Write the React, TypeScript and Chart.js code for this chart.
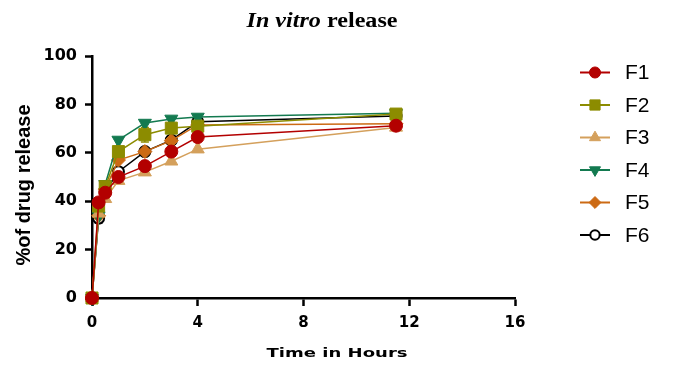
import React, { useEffect, useRef } from 'react';
import { Chart, registerables } from 'chart.js';

Chart.register(...registerables);

// ---- data ----
const titleItalic = 'In vitro';
const titleRest = ' release';
const xTitle = 'Time in Hours';
const yTitle = '%of drug release';

const timeHours = [0, 0.25, 0.5, 1, 2, 3, 4, 11.5];
const seriesNames = ['F1', 'F2', 'F3', 'F4', 'F5', 'F6'];
const f1 = [0, 39.5, 43.5, 50, 54.5, 60.5, 66.5, 71.2];
const f2 = [0, 38, 46, 60.5, 67.5, 70.2, 71, 76];
const f3 = [0, 35, 41, 48.5, 52, 56.5, 61.5, 70.5];
const f4 = [0, 34, 47, 65.3, 72.3, 74, 74.8, 76.3];
const f5 = [0, 34, 45, 57, 60.5, 65, 71.5, 72];
const f6 = [0, 33, 44, 52.2, 60.5, 65.2, 72.8, 75.2];
const f2Err = [0, 0, 0, 0, 3, 0, 0, 0];
const f3Err = [0, 3, 0, 0, 0, 0, 0, 0];
const f6Err = [0, 2, 0, 0, 0, 0, 0, 0];
const xTicks = [0, 4, 8, 12, 16];
const yTicks = [0, 20, 40, 60, 80, 100];

const seriesValues = [f1, f2, f3, f4, f5, f6];
const seriesErrors = [null, f2Err, f3Err, null, null, f6Err];
const seriesColors = ['#B30000', '#8C8C00', '#D4A05C', '#137A50', '#CC6A14', '#000000'];
const seriesFill = ['#B30000', '#8C8C00', '#D4A05C', '#137A50', '#CC6A14', '#FFFFFF'];
const seriesStyle = ['circle', 'rect', 'triangle', 'triangle', 'rectRot', 'circle'];
const seriesRot = [0, 0, 0, 180, 0, 0];
const seriesRadius = [6.5, 8.5, 7.5, 7.5, 7, 5.5];
const seriesBorder = [1, 1, 1, 1, 1, 2];

function drawMarker(ctx: CanvasRenderingContext2D, style: string, x: number, y: number, r: number, rot: number, fill: string, stroke: string, bw: number) {
  ctx.save();
  ctx.translate(x, y);
  ctx.rotate((rot * Math.PI) / 180);
  ctx.beginPath();
  if (style === 'circle') {
    ctx.arc(0, 0, r, 0, Math.PI * 2);
  } else if (style === 'rect') {
    const s = r * Math.SQRT1_2;
    ctx.rect(-s, -s, 2 * s, 2 * s);
  } else if (style === 'triangle') {
    for (let i = 0; i < 3; i++) {
      const a = (i * 2 * Math.PI) / 3;
      const px = Math.sin(a) * r;
      const py = -Math.cos(a) * r;
      if (i === 0) ctx.moveTo(px, py);
      else ctx.lineTo(px, py);
    }
    ctx.closePath();
  } else if (style === 'rectRot') {
    ctx.moveTo(-r, 0);
    ctx.lineTo(0, -r);
    ctx.lineTo(r, 0);
    ctx.lineTo(0, r);
    ctx.closePath();
  }
  ctx.fillStyle = fill;
  ctx.fill();
  ctx.lineWidth = bw;
  ctx.strokeStyle = stroke;
  ctx.stroke();
  ctx.restore();
}

const decorPlugin = {
  id: 'decor',
  beforeDatasetsDraw(chart: any) {
    const ctx = chart.ctx as CanvasRenderingContext2D;
    const xs = chart.scales.x;
    const ys = chart.scales.y;
    ctx.save();
    seriesErrors.forEach((errs, i) => {
      if (!errs) return;
      ctx.strokeStyle = seriesColors[i];
      ctx.lineWidth = 1.5;
      errs.forEach((e, j) => {
        if (!e) return;
        const x = xs.getPixelForValue(timeHours[j]);
        const y1 = ys.getPixelForValue(seriesValues[i][j] - e);
        const y2 = ys.getPixelForValue(seriesValues[i][j] + e);
        ctx.beginPath();
        ctx.moveTo(x, y1);
        ctx.lineTo(x, y2);
        ctx.moveTo(x - 4, y1);
        ctx.lineTo(x + 4, y1);
        ctx.moveTo(x - 4, y2);
        ctx.lineTo(x + 4, y2);
        ctx.stroke();
      });
    });
    ctx.restore();
  },
  afterDraw(chart: any) {
    const ctx = chart.ctx as CanvasRenderingContext2D;
    ctx.save();
    ctx.fillStyle = '#000';
    // title
    ctx.textBaseline = 'alphabetic';
    ctx.textAlign = 'left';
    const fItal = 'italic bold 20px "Liberation Serif"';
    const fBold = 'bold 20px "Liberation Serif"';
    ctx.font = fItal;
    const w1 = ctx.measureText(titleItalic).width;
    ctx.font = fBold;
    const w2 = ctx.measureText(titleRest).width;
    const k = 151 / (w1 + w2);
    ctx.save();
    ctx.translate(322 - 151 / 2, 27);
    ctx.scale(k, 1);
    ctx.font = fItal;
    ctx.fillText(titleItalic, 0, 0);
    ctx.font = fBold;
    ctx.fillText(titleRest, w1, 0);
    ctx.restore();

    // x title (wide)
    ctx.save();
    ctx.font = 'bold 13px "DejaVu Sans"';
    const xw = ctx.measureText(xTitle).width;
    const sx = 141 / xw;
    ctx.translate(337, 357);
    ctx.scale(sx, 1);
    ctx.textAlign = 'center';
    ctx.fillText(xTitle, 0, 0);
    ctx.restore();

    // y title
    ctx.save();
    ctx.font = 'bold 20px "Liberation Sans"';
    ctx.translate(30, 185);
    ctx.rotate(-Math.PI / 2);
    ctx.textAlign = 'center';
    ctx.textBaseline = 'alphabetic';
    ctx.fillText(yTitle, 0, 0);
    ctx.restore();

    // legend
    ctx.font = '21px "Liberation Sans"';
    ctx.textBaseline = 'middle';
    ctx.textAlign = 'left';
    seriesNames.forEach((name, i) => {
      const y = 72.5 + i * 32.5;
      ctx.strokeStyle = seriesColors[i];
      ctx.lineWidth = 2;
      ctx.beginPath();
      ctx.moveTo(580, y);
      ctx.lineTo(610, y);
      ctx.stroke();
      drawMarker(ctx, seriesStyle[i], 595, y, seriesRadius[i] * 0.85, seriesRot[i], seriesFill[i], seriesColors[i], seriesBorder[i]);
      ctx.fillStyle = '#000';
      ctx.fillText(name, 625, y + 1);
    });
    ctx.restore();
  },
};

export default function App() {
  const ref = useRef<HTMLCanvasElement | null>(null);
  useEffect(() => {
    if (!ref.current) return;
    const datasets = seriesNames.map((name, i) => ({
      label: name,
      data: timeHours.map((t, j) => ({ x: t, y: seriesValues[i][j] })),
      borderColor: seriesColors[i],
      backgroundColor: seriesFill[i],
      pointBackgroundColor: seriesFill[i],
      pointBorderColor: seriesColors[i],
      pointBorderWidth: seriesBorder[i],
      pointStyle: seriesStyle[i],
      pointRotation: seriesRot[i],
      pointRadius: seriesRadius[i],
      borderWidth: 1.5,
      tension: 0,
      clip: false as any,
    }));
    const chart = new Chart(ref.current, {
      type: 'line',
      data: { datasets },
      plugins: [decorPlugin],
      options: {
        animation: false,
        responsive: true,
        maintainAspectRatio: false,
        layout: { padding: { top: 56, right: 165, left: 0, bottom: 0 } },
        plugins: { legend: { display: false }, title: { display: false }, tooltip: { enabled: false } },
        scales: {
          x: {
            type: 'linear',
            min: 0,
            max: 16,
            afterBuildTicks: (s: any) => {
              s.ticks = xTicks.map((v) => ({ value: v }));
            },
            afterFit: (s: any) => {
              s.height = 67;
            },
            grid: { display: true, drawOnChartArea: false, drawTicks: true, tickLength: 8, tickWidth: 2.5, tickColor: '#000' },
            border: { display: true, color: '#000', width: 2.5 },
            ticks: { color: '#000', font: { family: 'DejaVu Sans', weight: 'bold', size: 15 }, padding: 8, maxRotation: 0 },
          },
          y: {
            type: 'linear',
            min: 0,
            max: 100,
            afterBuildTicks: (s: any) => {
              s.ticks = yTicks.map((v) => ({ value: v }));
            },
            afterFit: (s: any) => {
              s.width = 92;
            },
            grid: { display: true, drawOnChartArea: false, drawTicks: true, tickLength: 7, tickWidth: 2.5, tickColor: '#000' },
            border: { display: true, color: '#000', width: 2.5 },
            ticks: { color: '#000', font: { family: 'DejaVu Sans', weight: 'bold', size: 16 }, padding: 8 },
          },
        },
      },
    });
    return () => chart.destroy();
  }, []);
  return (
    <div style={{ position: 'fixed', left: 0, top: 0, width: 680, height: 365, background: '#fff' }}>
      <canvas ref={ref} />
    </div>
  );
}
